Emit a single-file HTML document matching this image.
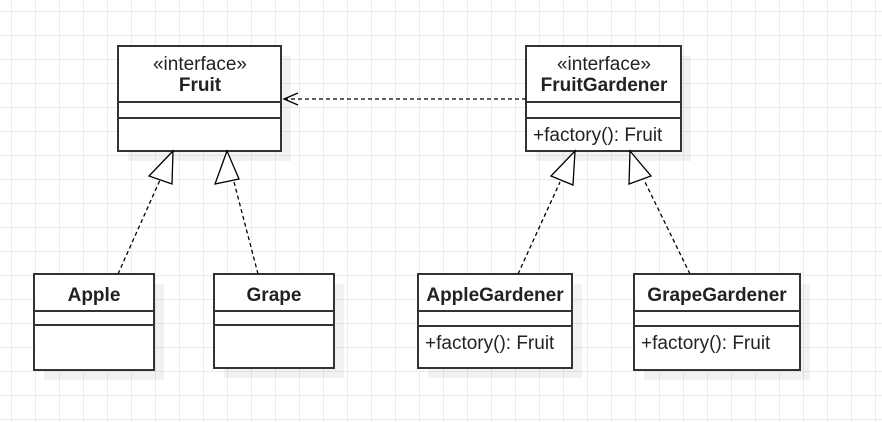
<!DOCTYPE html>
<html><head><style>
body{margin:0;width:882px;height:422px;overflow:hidden;background:#fff;
background-image:linear-gradient(#ececec 1px,transparent 1px),linear-gradient(90deg,#ececec 1px,transparent 1px);
background-size:24px 24px;background-position:11px 11px;font-family:"Liberation Sans",sans-serif;}
</style></head><body>
<svg width="882" height="422" style="position:absolute;left:0;top:0" font-family="Liberation Sans, sans-serif">
<g fill="#000" opacity="0.05">
<rect x="128" y="56" width="163" height="105"/><rect x="536" y="56" width="155" height="105"/>
<rect x="44" y="284" width="120" height="96"/><rect x="224" y="284" width="120" height="94"/>
<rect x="428" y="284" width="154" height="94"/><rect x="644" y="284" width="166" height="96"/>
</g>
<g fill="#fff" stroke="#333" stroke-width="2">
<rect x="118" y="46" width="163" height="105"/><line x1="118" y1="102" x2="281" y2="102"/><line x1="118" y1="118" x2="281" y2="118"/>
<rect x="526" y="46" width="155" height="105"/><line x1="526" y1="102" x2="681" y2="102"/><line x1="526" y1="118" x2="681" y2="118"/>
<rect x="34" y="274" width="120" height="96"/><line x1="34" y1="311" x2="154" y2="311"/><line x1="34" y1="325" x2="154" y2="325"/>
<rect x="214" y="274" width="120" height="94"/><line x1="214" y1="311" x2="334" y2="311"/><line x1="214" y1="325" x2="334" y2="325"/>
<rect x="418" y="274" width="154" height="94"/><line x1="418" y1="311" x2="572" y2="311"/><line x1="418" y1="326" x2="572" y2="326"/>
<rect x="634" y="274" width="166" height="96"/><line x1="634" y1="311" x2="800" y2="311"/><line x1="634" y1="326" x2="800" y2="326"/>
</g>
<g stroke="#000" stroke-width="1.3" stroke-dasharray="4,3" fill="none">
<line x1="118" y1="274" x2="160" y2="180"/><line x1="258" y1="274" x2="234" y2="182"/>
<line x1="518" y1="274" x2="560" y2="182"/><line x1="690" y1="274" x2="645" y2="182"/>
<line x1="526" y1="99" x2="284" y2="99"/>
</g>
<g stroke="#000" stroke-width="1.3" fill="#fff">
<polygon points="173,151 149,176 172,184"/><polygon points="227,151 215,184 239,179"/>
<polygon points="575,151 551,176 573,185"/><polygon points="630,151 629,184 651,176"/>
<polyline points="298,93 284,99 298,105" fill="none"/>
</g>
<g font-size="19" fill="#222" text-anchor="middle">
<text x="200" y="70">«interface»</text><text x="200" y="91" font-weight="bold">Fruit</text>
<text x="604" y="70">«interface»</text><text x="604" y="91" font-weight="bold">FruitGardener</text>
<text x="94" y="301" font-weight="bold">Apple</text><text x="274" y="301" font-weight="bold">Grape</text>
<text x="495" y="301" font-weight="bold">AppleGardener</text><text x="717" y="301" font-weight="bold">GrapeGardener</text>
</g>
<g font-size="19" fill="#222">
<text x="533" y="141">+factory(): Fruit</text>
<text x="425" y="349">+factory(): Fruit</text>
<text x="641" y="349">+factory(): Fruit</text>
</g>
</svg>
</body></html>
